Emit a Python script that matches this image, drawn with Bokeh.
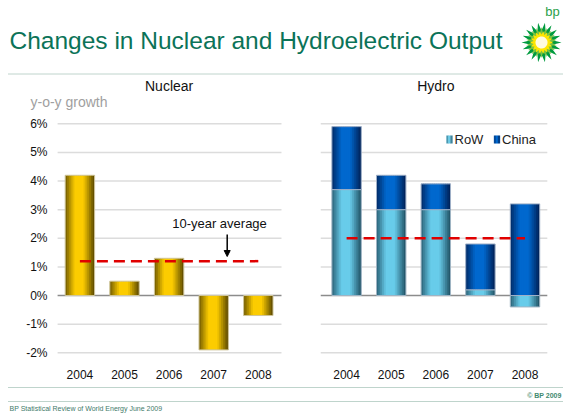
import numpy as np
from bokeh.plotting import figure
from bokeh.models import Range1d, Arrow, NormalHead
from bokeh.core.properties import value
from bokeh.embed import file_html
from bokeh.resources import INLINE

# ---------------- data ----------------
years = ["2004", "2005", "2006", "2007", "2008"]
nuclear = [4.2, 0.5, 1.3, -1.9, -0.7]
nuclear_avg = 1.2
hydro_row = [3.7, 3.0, 3.0, 0.2, -0.4]
hydro_china = [2.2, 1.2, 0.9, 1.6, 3.2]
hydro_avg = 2.0
y_ticks = [6, 5, 4, 3, 2, 1, 0, -1, -2]
y_tick_labels = ["6%", "5%", "4%", "3%", "2%", "1%", "0%", "-1%", "-2%"]

# ---------------- geometry ----------------
W, H = 563, 413
PXX, PXY = 44.6, 28.625
X0 = 79.4          # px of first nuclear category
Y0 = 295.0         # px (from top) of 0%
x_start = -X0 / PXX
y_end = Y0 / PXY

def dx(px):  # pixel x -> data x
    return (px - X0) / PXX

def dy(py):  # pixel y -> data y
    return (Y0 - py) / PXY

p = figure(width=W, height=H, output_backend="svg", toolbar_location=None,
           x_range=Range1d(x_start, x_start + W / PXX),
           y_range=Range1d(y_end - H / PXY, y_end),
           min_border=0, outline_line_color=None)
p.axis.visible = False
p.grid.visible = False
p.background_fill_color = "white"
p.border_fill_color = "white"

HOFF = 5.98
nx = np.arange(len(years), dtype=float)
hx = nx + HOFF
BW = 0.66
FONT = value("Liberation Sans")

# ---------------- grid lines ----------------
for t in y_ticks:
    col = "#8c8c8c" if t == 0 else "#dcdcdc"
    lw = 1.6 if t == 0 else 1.5
    p.segment(x0=[-0.5, HOFF - 0.58], x1=[4.52, HOFF + 4.5], y0=[t, t], y1=[t, t],
              line_color=col, line_width=lw)

# ---------------- gradient bars ----------------
def mix(edge, center, w):
    c = [int(round(e + (cc - e) * w)) for e, cc in zip(edge, center)]
    return "#%02x%02x%02x" % tuple(c)

def weight(t):
    return float(np.clip((1 - abs(t - 0.47) / 0.5) * 1.4, 0.0, 1.0))

N = 16
def grad_bars(xs, bottoms, tops, edge, center, outline):
    xs = np.asarray(xs, float)
    s = BW / N
    for k in range(N):
        t = (k + 0.5) / N
        col = mix(edge, center, weight(t))
        left = -BW / 2 + k * s
        right = min(-BW / 2 + (k + 1.6) * s, BW / 2)
        p.vbar(x=xs + (left + right) / 2, width=right - left, bottom=bottoms, top=tops,
               fill_color=col, line_color=None)
    p.vbar(x=xs, width=BW, bottom=bottoms, top=tops, fill_color=None,
           line_color=outline, line_width=1)

GOLD_E, GOLD_C = (100, 80, 0), (252, 204, 0)
ROW_E, ROW_C = (36, 88, 108), (104, 204, 234)
CHN_E, CHN_C = (0, 36, 92), (0, 104, 206)

grad_bars(nx, [0] * 5, nuclear, GOLD_E, GOLD_C, "#cfc59a")

row_b = [0.0] * 5
row_t = hydro_row
ch_b = [max(r, 0.0) for r in hydro_row]
ch_t = [b + c for b, c in zip(ch_b, hydro_china)]
grad_bars(hx, row_b, row_t, ROW_E, ROW_C, "#9fb4c4")
grad_bars(hx, ch_b, ch_t, CHN_E, CHN_C, "#9fb0c8")

# ---------------- average lines ----------------
p.segment(x0=[nx[0]], x1=[nx[-1]], y0=[nuclear_avg], y1=[nuclear_avg],
          line_color="#e00000", line_width=2.5, line_dash="11 6")
p.segment(x0=[hx[0]], x1=[hx[-1]], y0=[hydro_avg], y1=[hydro_avg],
          line_color="#e00000", line_width=2.5, line_dash="11 6")

p.text(x=[dx(219)], y=[dy(222.5)], text=["10-year average"], text_font=FONT,
       text_font_size="13px", text_color="#111111", text_align="center",
       text_baseline="middle")
p.add_layout(Arrow(end=NormalHead(size=6, fill_color="black", line_color="black"),
                   x_start=dx(226.7), y_start=dy(234), x_end=dx(226.7), y_end=dy(256),
                   line_width=1.5, line_color="black"))

# ---------------- tick labels ----------------
p.text(x=[dx(47)] * len(y_ticks), y=y_ticks, text=y_tick_labels, text_font=FONT,
       text_font_size="12px", text_color="#111111", text_align="right",
       text_baseline="middle")
p.text(x=list(nx) + list(hx), y=[dy(373.5)] * 10, text=years + years, text_font=FONT,
       text_font_size="12px", text_color="#111111", text_align="center",
       text_baseline="middle")
p.text(x=[dx(30)], y=[dy(101)], text=["y-o-y growth"], text_font=FONT,
       text_font_size="14px", text_color="#a0a0a0", text_align="left",
       text_baseline="middle")
p.text(x=[2.0, HOFF + 2.0], y=[dy(85), dy(85)], text=["Nuclear", "Hydro"], text_font=FONT,
       text_font_size="14px", text_color="#111111", text_align="center",
       text_baseline="middle")

# ---------------- legend ----------------
for (lx, lab, e, c) in [(446, "RoW", ROW_E, ROW_C), (493.5, "China", CHN_E, CHN_C)]:
    for k in range(3):
        t = (k + 0.5) / 3
        p.rect(x=[dx(lx + k * 2 + 1)], y=[dy(139)], width=2.3, height=8,
               width_units="screen", height_units="screen",
               fill_color=mix(e, c, weight(t)), line_color=None)
    p.text(x=[dx(lx + 8)], y=[dy(139)], text=[lab], text_font=FONT,
           text_font_size="13px", text_color="#222222", text_align="left",
           text_baseline="middle")

# ---------------- title & decorations ----------------
p.text(x=[dx(9)], y=[dy(40)], text=["Changes in Nuclear and Hydroelectric Output"],
       text_font=FONT, text_font_size="24.5px", text_color="#0b7358",
       text_align="left", text_baseline="alphabetic")

DOT = "#7fa898"
for yy in [73.5, 387, 401]:
    p.segment(x0=[dx(8)], x1=[dx(563)], y0=[dy(yy)], y1=[dy(yy)],
              line_color=DOT, line_width=1, line_dash="1 1")

p.text(x=[dx(561)], y=[dy(394.5)], text=["© BP 2009"], text_font=FONT,
       text_font_size="7px", text_font_style="bold", text_color="#3f8a70",
       text_align="right", text_baseline="middle")
p.text(x=[dx(9)], y=[dy(408)], text=["BP Statistical Review of World Energy June 2009"],
       text_font=FONT, text_font_size="7px", text_color="#3f7a6a",
       text_align="left", text_baseline="middle")

# bp helios logo
cx, cy = 541, 42
def star(n, r_out, r_in, rot=0.0):
    a = np.arange(2 * n) * np.pi / n + rot
    r = np.where(np.arange(2 * n) % 2 == 0, r_out, r_in)
    return [dx(cx + v) for v in r * np.cos(a)], [dy(cy - v) for v in r * np.sin(a)]

sx, sy = star(18, 20, 12)
p.patch(sx, sy, fill_color="#009a3e", line_color=None)
sx, sy = star(18, 15.5, 9.5, np.pi / 18)
p.patch(sx, sy, fill_color="#7cc242", line_color=None)
sx, sy = star(18, 11.5, 8)
p.patch(sx, sy, fill_color="#ffe600", line_color=None)
ang = np.linspace(0, 2 * np.pi, 40)
p.patch([dx(cx + 6 * np.cos(a)) for a in ang], [dy(cy + 6 * np.sin(a)) for a in ang],
        fill_color="#fffbe0", line_color=None)
p.text(x=[dx(552)], y=[dy(11)], text=["bp"], text_font=FONT, text_font_size="13px",
       text_color="#2aa04a", text_align="center", text_baseline="middle")

open("out.html", "w").write(file_html(p, INLINE))
